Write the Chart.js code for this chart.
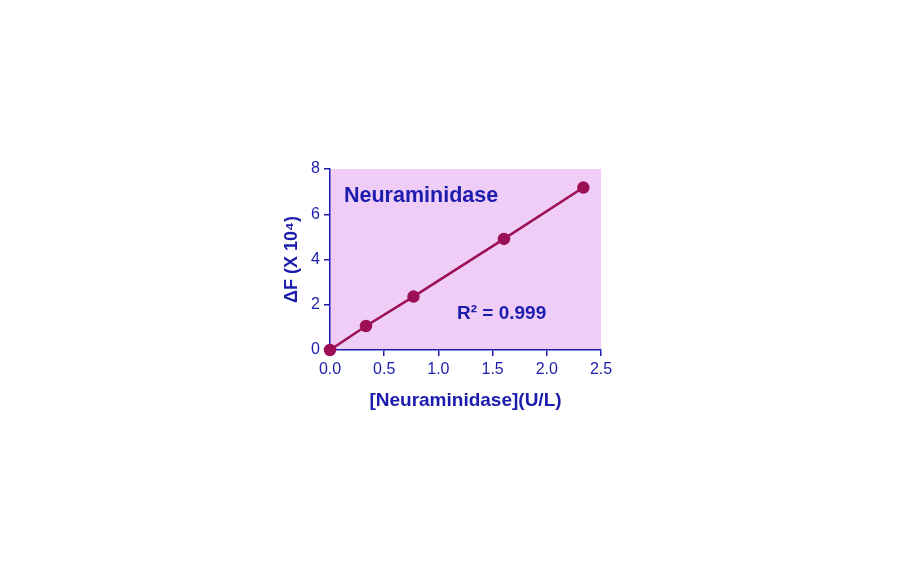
<!DOCTYPE html>
<html><head><meta charset="utf-8">
<script src="https://cdn.jsdelivr.net/npm/chart.js@4/dist/chart.umd.min.js"></script>
<style>html,body{margin:0;padding:0;background:#fff}#wrap{width:912px;height:562px}</style>
</head><body><div id="wrap"><canvas id="c" width="912" height="562"></canvas></div>
<script>
const concentration = [0, 0.332, 0.77, 1.605, 2.337];
const deltaF = [0, 1.06, 2.36, 4.91, 7.18];
const xTicks = [0, 0.5, 1.0, 1.5, 2.0, 2.5];
const yTicks = [0, 2, 4, 6, 8];
const chartTitle = 'Neuraminidase';
const r2Label = 'R\u00B2 = 0.999';
const xTitle = '[Neuraminidase](U/L)';
const yTitle = '\u0394F (X 10\u2074)';

const BLUE = '#1c1cad';
const LINE = '#9c0f55';
const BG = '#efcdf7';

const bgPlugin = {
  id: 'bg',
  beforeDraw(chart) {
    const a = chart.chartArea, ctx = chart.ctx;
    ctx.save(); ctx.fillStyle = BG;
    ctx.fillRect(a.left, a.top, a.right - a.left, a.bottom - a.top);
    ctx.restore();
  },
  afterDraw(chart) {
    const a = chart.chartArea, ctx = chart.ctx;
    ctx.save();
    ctx.fillStyle = BLUE;
    ctx.textBaseline = 'alphabetic';
    ctx.font = 'bold 21.5px "Liberation Sans", Arial, sans-serif';
    ctx.fillText(chartTitle, a.left + 14, a.top + 33);
    ctx.font = 'bold 19px "Liberation Sans", Arial, sans-serif';
    ctx.fillText(r2Label, a.left + 127, a.top + 150);
    ctx.restore();
  }
};

new Chart(document.getElementById('c'), {
  type: 'scatter',
  data: {
    datasets: [{
      data: concentration.map((x, i) => ({x, y: deltaF[i]})),
      showLine: true,
      borderColor: LINE,
      backgroundColor: LINE,
      borderWidth: 2.5,
      pointRadius: 5,
      pointHoverRadius: 5,
      clip: false
    }]
  },
  options: {
    responsive: false,
    animation: false,
    events: [],
    layout: { padding: { left: 277, top: 169, right: 311, bottom: 150 } },
    plugins: { legend: { display: false }, tooltip: { enabled: false } },
    scales: {
      x: {
        type: 'linear', min: 0, max: 2.5,
        afterBuildTicks: s => { s.ticks = xTicks.map(v => ({value: v})); },
        afterFit: s => { s.height = 62; },
        ticks: { color: BLUE, font: { family: '"Liberation Sans", Arial', size: 16 }, padding: 4,
                 callback: v => v.toFixed(1), maxRotation: 0 },
        grid: { drawOnChartArea: false, drawTicks: true, tickLength: 6, color: BLUE, lineWidth: 1.5 },
        border: { color: BLUE, width: 1.5 },
        title: { display: true, text: xTitle, color: BLUE, font: { family: '"Liberation Sans", Arial', size: 19, weight: 'bold' }, padding: { top: 4, bottom: 0 } }
      },
      y: {
        type: 'linear', min: 0, max: 8,
        afterBuildTicks: s => { s.ticks = yTicks.map(v => ({value: v})); },
        afterFit: s => { s.width = 53; },
        ticks: { color: BLUE, font: { family: '"Liberation Sans", Arial', size: 16 }, padding: 4 },
        grid: { drawOnChartArea: false, drawTicks: true, tickLength: 6, color: BLUE, lineWidth: 1.5 },
        border: { color: BLUE, width: 1.5 },
        title: { display: true, text: yTitle, color: BLUE, font: { family: '"Liberation Sans", Arial', size: 18, weight: 'bold' }, padding: { top: 4, bottom: 4 } }
      }
    }
  },
  plugins: [bgPlugin]
});
</script></body></html>
